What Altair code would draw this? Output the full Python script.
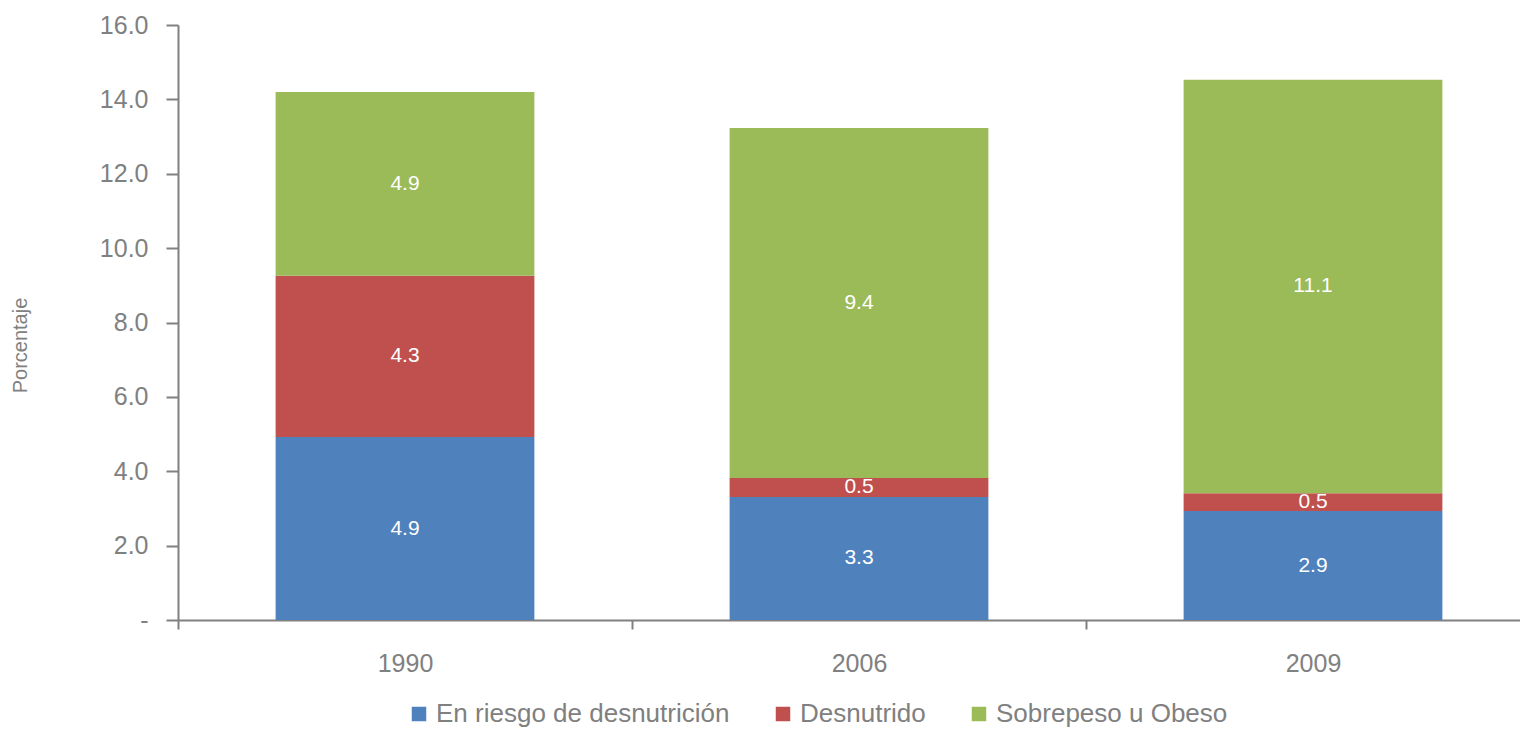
import altair as alt
import pandas as pd

years = ["1990", "2006", "2009"]
series = ["En riesgo de desnutrición", "Desnutrido", "Sobrepeso u Obeso"]
riesgo = [4.92, 3.31, 2.93]
desnutrido = [4.34, 0.51, 0.48]
sobrepeso = [4.94, 9.41, 11.12]
colors = ["#4F81BD", "#C0504D", "#9BBB59"]
y_ticks = [0, 2, 4, 6, 8, 10, 12, 14, 16]

rows = []
for i, y in enumerate(years):
    for k, (name, vals) in enumerate(zip(series, [riesgo, desnutrido, sobrepeso])):
        rows.append({"year": y, "serie": name, "value": vals[i], "order": k})
df = pd.DataFrame(rows)

FONT = "Liberation Sans"
GRAY = "#808080"

x_enc = alt.X(
    "year:N",
    sort=years,
    title=None,
    scale=alt.Scale(range=[0, 1362], paddingInner=0, paddingOuter=0),
    axis=alt.Axis(
        labelAngle=0, labelFontSize=25, labelColor=GRAY, labelFont=FONT,
        labelPadding=22, tickBand="extent", tickSize=9, tickColor=GRAY,
        domainColor=GRAY, domainWidth=2, tickWidth=2, grid=False,
    ),
)

base = alt.Chart(df).transform_stack(
    stack="value", groupby=["year"], as_=["v0", "v1"],
    sort=[alt.SortField("order", order="ascending")],
).transform_calculate(mid="(datum.v0 + datum.v1) / 2")

bars = base.mark_bar(width=alt.RelativeBandSize(0.57)).encode(
    x=x_enc,
    y=alt.Y(
        "v0:Q",
        scale=alt.Scale(domain=[0, 16], nice=False),
        title="Porcentaje",
        axis=alt.Axis(
            values=y_ticks, labelExpr="datum.value == 0 ? '-' : format(datum.value, '.1f')",
            labelFontSize=25, labelColor=GRAY, labelFont=FONT, labelPadding=18,
            tickSize=12, tickColor=GRAY, tickWidth=2, domainColor=GRAY, domainWidth=2,
            grid=False, titleFont=FONT, titleFontSize=20, titleFontWeight="normal",
            titleColor=GRAY, titleX=-158, titleY=320, titleAlign="center",
            titleBaseline="middle", titleAngle=-90,
        ),
    ),
    y2="v1:Q",
    color=alt.Color(
        "serie:N",
        scale=alt.Scale(domain=series, range=colors),
        legend=alt.Legend(
            title=None, orient="none", direction="horizontal", legendX=228, legendY=676,
            symbolType="square", symbolSize=210, symbolStrokeWidth=0,
            labelFontSize=26, labelColor=GRAY, labelFont=FONT, labelLimit=500,
            columnPadding=40, labelOffset=4,
        ),
    ),
)

text = base.mark_text(color="white", fontSize=21, font=FONT).encode(
    x=alt.X("year:N", sort=years),
    y=alt.Y("mid:Q"),
    text=alt.Text("value:Q", format=".1f"),
)

chart = (
    alt.layer(bars, text)
    .properties(
        width=1342, height=595,
        autosize=alt.AutoSizeParams(type="none"),
        padding={"left": 170, "top": 17, "right": 0, "bottom": 112},
    )
    .configure_view(stroke=None)
)

chart.save("out.html", embed_options={"renderer": "svg", "actions": False})
